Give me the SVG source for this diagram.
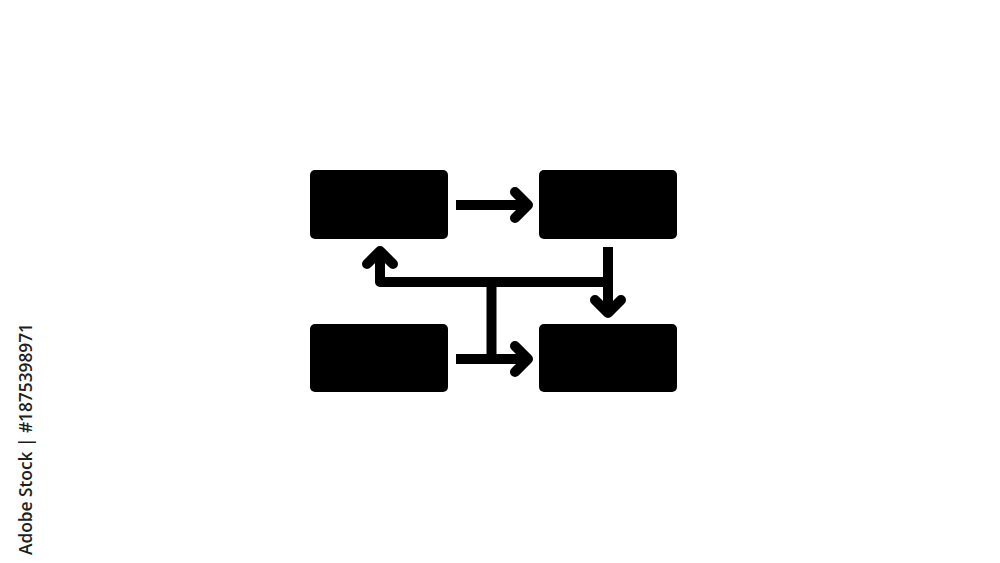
<svg xmlns="http://www.w3.org/2000/svg" width="1000" height="563" viewBox="0 0 1000 563">
  <style>
    .box { fill: #000; }
    .line { fill: none; stroke: #000; stroke-width: 10; stroke-linejoin: round; }
    .head { fill: none; stroke: #000; stroke-width: 10; stroke-linecap: round; stroke-linejoin: round; }
    .wm { font-family: "Open Sans", "Liberation Sans", sans-serif; font-weight: 600; font-size: 18px; fill: #1e1e1e; }
  </style>
  <rect width="1000" height="563" fill="#fff"/>
  <g id="node-top-left"><rect class="box" x="310" y="170" width="138" height="69" rx="5"/></g>
  <g id="node-top-right"><rect class="box" x="539" y="170" width="138" height="69" rx="5"/></g>
  <g id="node-bottom-left"><rect class="box" x="310" y="324" width="138" height="68" rx="5"/></g>
  <g id="node-bottom-right"><rect class="box" x="539" y="324" width="138" height="68" rx="5"/></g>
  <g id="connectors">
    <path class="line" d="M456 205 H527"/>
    <polyline class="head" points="515,192 528,205 515,218"/>
    <path class="line" d="M456 359 H527"/>
    <polyline class="head" points="515,346 528,359 515,372"/>
    <path class="line" d="M608 247 V312"/>
    <polyline class="head" points="595,300 608,313 621,300"/>
    <path class="line" d="M608 282 H380 V252"/>
    <polyline class="head" points="367,264 380,251 393,264"/>
    <path class="line" d="M491.5 282 V359"/>
  </g>
  <text class="wm" transform="translate(32,555) rotate(-90)" textLength="232" lengthAdjust="spacingAndGlyphs">Adobe Stock | #1875398971</text>
</svg>
